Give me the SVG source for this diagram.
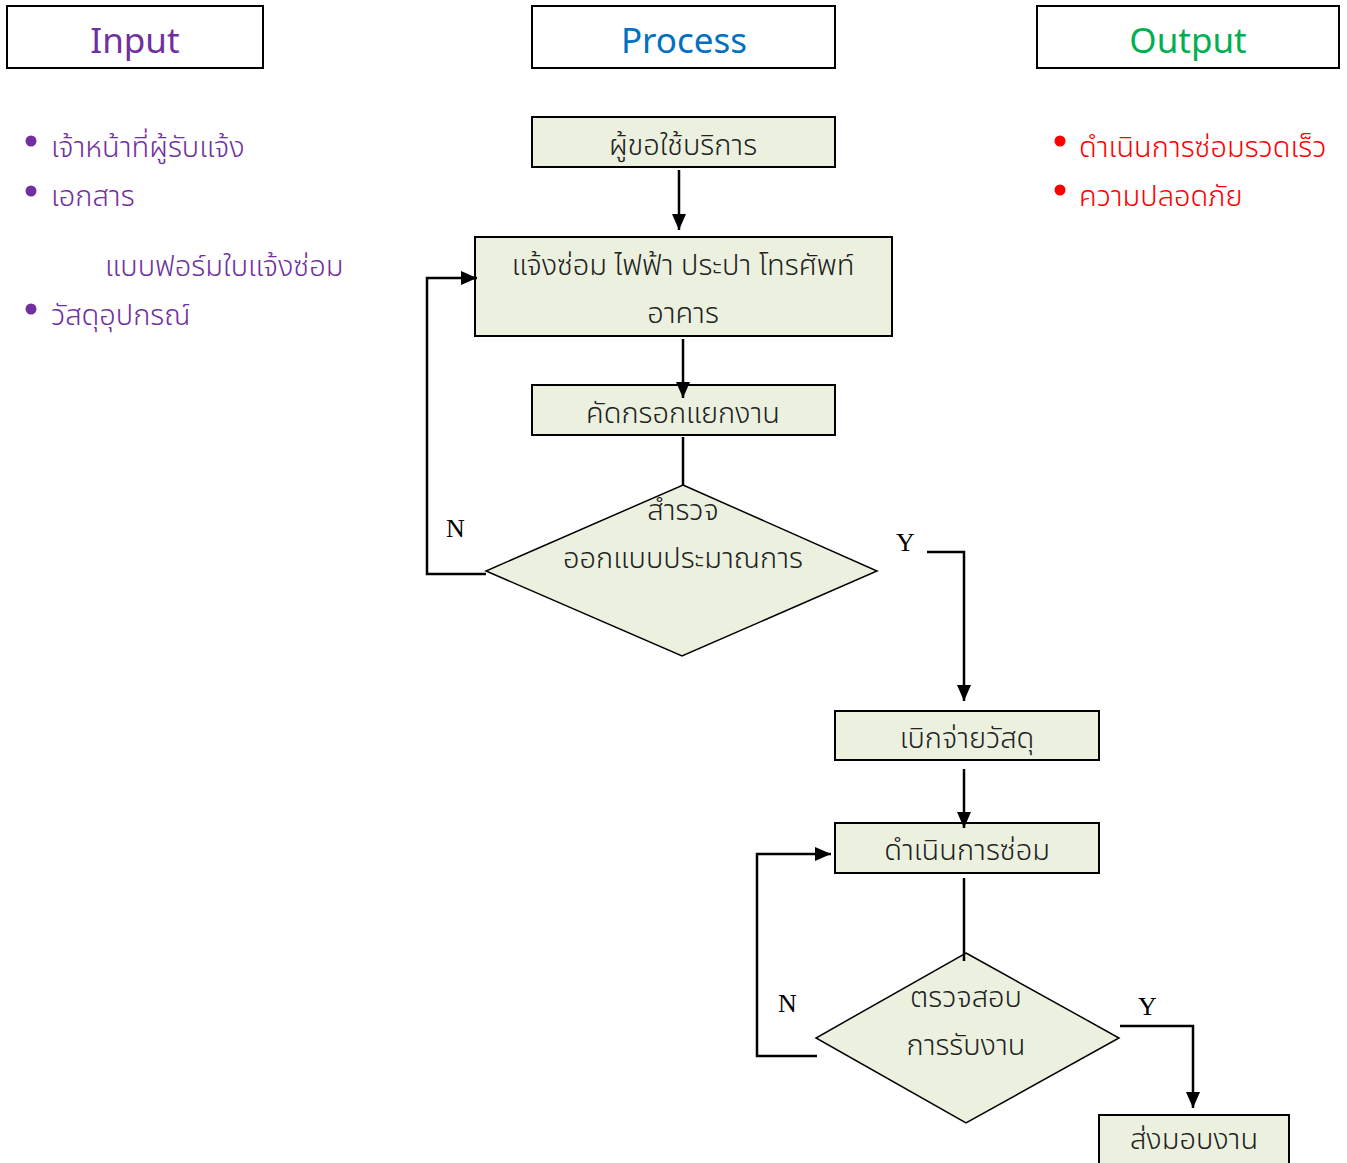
<svg xmlns="http://www.w3.org/2000/svg" width="1347" height="1163" viewBox="0 0 1347 1163">
  <style>
    .hdr { fill: #ffffff; stroke: #000000; stroke-width: 2; }
    .hdrtxt { font-family: "Noto Sans", "Open Sans", sans-serif; font-size: 35px; text-anchor: middle; }
    .box { fill: #EBF1DE; stroke: #000000; stroke-width: 2; }
    .dia { fill: #EBF1DE; stroke: #000000; stroke-width: 1.5; }
    .th { font-family: "Noto Sans Thai", "Noto Sans Thai Looped", "Noto Sans", "DejaVu Sans", sans-serif; font-size: 29px; font-weight: 300; }
    .ctr { text-anchor: middle; fill: #222222; }
    .purple { fill: #7030A0; }
    .red { fill: #FF0000; }
    .conn { fill: none; stroke: #000000; stroke-width: 2.5; }
    .yn { font-family: "Liberation Serif", serif; font-size: 26px; fill: #000000; }
  </style>
  <defs>
    <marker id="arrow" viewBox="0 0 16 14" refX="16" refY="7" markerWidth="16" markerHeight="14" markerUnits="userSpaceOnUse" orient="auto">
      <path d="M0,0 L16,7 L0,14 Z" fill="#000000"/>
    </marker>
  </defs>

  <!-- column headers -->
  <g id="hdr-input">
    <rect class="hdr" x="7" y="6" width="256" height="62"/>
    <text class="hdrtxt" x="135" y="53" fill="#7030A0">Input</text>
  </g>
  <g id="hdr-process">
    <rect class="hdr" x="532" y="6" width="303" height="62"/>
    <text class="hdrtxt" x="684" y="53" fill="#0070C0">Process</text>
  </g>
  <g id="hdr-output">
    <rect class="hdr" x="1037" y="6" width="302" height="62"/>
    <text class="hdrtxt" x="1188" y="53" fill="#00B050">Output</text>
  </g>

  <!-- input list -->
  <g id="input-list" class="th purple">
    <circle cx="31" cy="141" r="5.5"/>
    <text x="51" y="157">เจ้าหน้าที่ผู้รับแจ้ง</text>
    <circle cx="31" cy="191" r="5.5"/>
    <text x="51" y="206">เอกสาร</text>
    <text x="105" y="276">แบบฟอร์มใบแจ้งซ่อม</text>
    <circle cx="31" cy="309" r="5.5"/>
    <text x="51" y="325">วัสดุอุปกรณ์</text>
  </g>

  <!-- output list -->
  <g id="output-list" class="th red">
    <circle cx="1060" cy="141" r="5.5"/>
    <text x="1079" y="157">ดำเนินการซ่อมรวดเร็ว</text>
    <circle cx="1060" cy="190" r="5.5"/>
    <text x="1079" y="206">ความปลอดภัย</text>
  </g>

  <!-- process nodes -->
  <g id="n-requester">
    <rect class="box" x="532" y="117" width="303" height="50"/>
    <text class="th ctr" x="683" y="155">ผู้ขอใช้บริการ</text>
  </g>
  <g id="n-report">
    <rect class="box" x="475" y="237" width="417" height="99"/>
    <text class="th ctr" x="683" y="275">แจ้งซ่อม ไฟฟ้า ประปา โทรศัพท์</text>
    <text class="th ctr" x="683" y="323">อาคาร</text>
  </g>
  <g id="n-screen">
    <rect class="box" x="532" y="385" width="303" height="50"/>
    <text class="th ctr" x="683" y="423">คัดกรอกแยกงาน</text>
  </g>
  <g id="n-survey">
    <polygon class="dia" points="683,485 877,571 682,656 486,571"/>
    <text class="th ctr" x="683" y="520">สำรวจ</text>
    <text class="th ctr" x="683" y="568">ออกแบบประมาณการ</text>
  </g>
  <g id="n-withdraw">
    <rect class="box" x="835" y="711" width="264" height="49"/>
    <text class="th ctr" x="967" y="748">เบิกจ่ายวัสดุ</text>
  </g>
  <g id="n-repair">
    <rect class="box" x="835" y="823" width="264" height="50"/>
    <text class="th ctr" x="967" y="860">ดำเนินการซ่อม</text>
  </g>
  <g id="n-inspect">
    <polygon class="dia" points="966,953 1119,1038 966,1123 816,1038"/>
    <text class="th ctr" x="966" y="1007">ตรวจสอบ</text>
    <text class="th ctr" x="966" y="1055">การรับงาน</text>
  </g>
  <g id="n-deliver">
    <rect class="box" x="1099" y="1115" width="190" height="60"/>
    <text class="th ctr" x="1194" y="1149">ส่งมอบงาน</text>
  </g>

  <!-- connectors, drawn over the nodes -->
  <g id="connectors">
    <line class="conn" x1="679" y1="170" x2="679" y2="230" marker-end="url(#arrow)"/>
    <line class="conn" x1="683" y1="339" x2="683" y2="398" marker-end="url(#arrow)"/>
    <line class="conn" x1="683" y1="437" x2="683" y2="486"/>
    <polyline class="conn" points="486,574 427,574 427,278 477,278" marker-end="url(#arrow)"/>
    <polyline class="conn" points="927,552 964,552 964,701" marker-end="url(#arrow)"/>
    <line class="conn" x1="964" y1="769" x2="964" y2="828" marker-end="url(#arrow)"/>
    <line class="conn" x1="964" y1="878" x2="964" y2="961"/>
    <polyline class="conn" points="817,1056 757,1056 757,854 831,854" marker-end="url(#arrow)"/>
    <polyline class="conn" points="1120,1026 1193,1026 1193,1108" marker-end="url(#arrow)"/>
    <text class="yn" x="446" y="537">N</text>
    <text class="yn" x="896" y="551">Y</text>
    <text class="yn" x="778" y="1012">N</text>
    <text class="yn" x="1138" y="1015">Y</text>
  </g>
</svg>
